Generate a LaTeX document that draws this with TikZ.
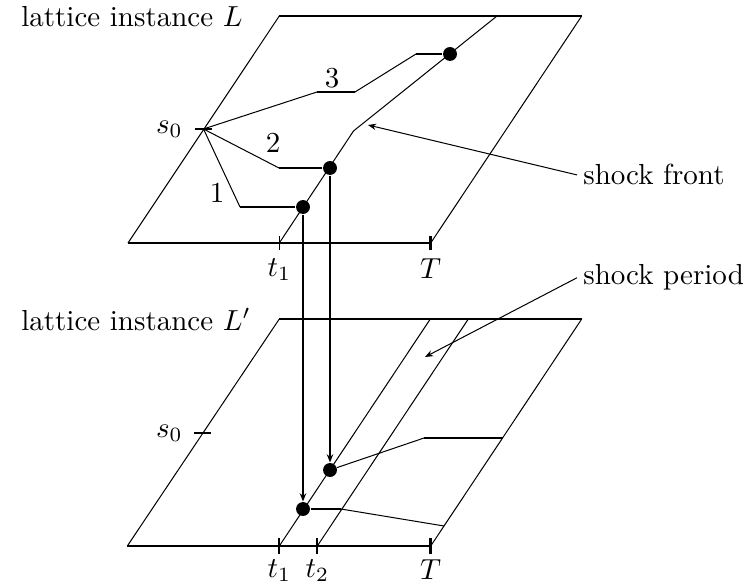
\documentclass[tikz,border=0pt]{standalone}
\usetikzlibrary{arrows.meta}

\begin{document}
\begin{tikzpicture}[
  x=0.345pt, y=-0.345pt,
  edge/.style={line width=0.35pt},
  rim/.style={line width=0.95pt},
  mid/.style={line width=0.65pt},
  hop/.style={line width=0.9pt},
  tk/.style={line width=0.65pt},
  dot/.style={circle, fill=black, inner sep=0pt, minimum size=4.8pt},
  ar/.style={-{Stealth[length=2.8pt, width=2.2pt]}, line width=0.7pt},
  arn/.style={-{Stealth[length=2.8pt, width=2.2pt]}, line width=0.35pt},
  lbl/.style={inner sep=2pt},
]
\useasboundingbox (0,0) rectangle (747,588);

% ---------------------------------------------------------------- instance L
\coordinate (uA) at (128,243);
\coordinate (uB) at (430.7,243);
\coordinate (uC) at (581.7,16);
\coordinate (uD) at (279.3,16);
\coordinate (ut1) at (279.3,243);
\coordinate (uK) at (353.5,131);
\coordinate (uE) at (497,16);
\coordinate (us0) at (203.5,129);

\draw[edge] (uA) -- (uD);
\draw[edge] (uB) -- (uC);
\draw[mid]  (uD) -- (uC);
\draw[rim]  (uA) -- (uB);
\draw[edge] ([yshift=2.4pt]ut1) -- ([yshift=-2.4pt]ut1);
\draw[rim]  ([yshift=2.4pt]uB) -- ([yshift=-2.4pt]uB);
\draw[tk]   ([xshift=-2.8pt]us0) -- ([xshift=2.8pt]us0);

% shock front
\draw[edge] (ut1) -- (uK) -- (uE);

\node[dot] at (303,207) (ud1) {};
\node[dot] at (330,168) (ud2) {};
\node[dot] at (450,54)  (ud3) {};

% paths from s0
\coordinate (ub1) at (240,207);
\coordinate (ub2) at (279,168);
\coordinate (ub3) at (317,92);
\coordinate (ub4) at (355,92);
\coordinate (ub5) at (416,54);
\draw[edge] (us0) -- (ub1);
\draw[hop]  (ub1) -- (ud1);
\draw[edge] (us0) -- (ub2);
\draw[hop]  (ub2) -- (ud2);
\draw[edge] (us0) -- (ub3);
\draw[hop]  (ub3) -- (ub4);
\draw[edge] (ub4) -- (ub5);
\draw[hop]  (ub5) -- (ud3);

\node[lbl] at (217,193) (n1) {1};
\node[lbl] at (273,143) (n2) {2};
\node[lbl] at (332,78)  (n3) {3};

\node[lbl, anchor=base west] at (15,27) (uL) {lattice instance $L$};
\node[lbl, anchor=east] at (189,129) (us0l) {$s_0$};
\node[lbl, anchor=north] at (279.3,252) (ut1l) {$t_1$};
\node[lbl, anchor=north] at (430.7,252) (uTl) {$T$};

% ---------------------------------------------------------------- instance L'
\coordinate (lA) at (127.3,546);
\coordinate (lB) at (430.7,546);
\coordinate (lC) at (581.7,319);
\coordinate (lD) at (279.3,319);
\coordinate (lt1) at (279.3,546);
\coordinate (lt2) at (317.3,546);
\coordinate (lt1e) at (430.3,319);
\coordinate (lt2e) at (468.3,319);
\coordinate (ls0) at (202.5,433);

\draw[edge] (lA) -- (lD);
\draw[edge] (lB) -- (lC);
\draw[rim]  (lD) -- (lC);
\draw[mid]  (lA) -- (lB);
\draw[tk]   ([yshift=2.6pt]lt1) -- ([yshift=-2.6pt]lt1);
\draw[tk]   ([yshift=2.6pt]lt2) -- ([yshift=-2.6pt]lt2);
\draw[rim]  ([yshift=2.6pt]lB) -- ([yshift=-2.6pt]lB);
\draw[tk]   ([xshift=-2.8pt]ls0) -- ([xshift=2.8pt]ls0);

% shock period
\draw[edge] (lt1) -- (lt1e);
\draw[edge] (lt2) -- (lt2e);

\node[dot] at (303,509) (ld1) {};
\node[dot] at (330,470) (ld2) {};

\coordinate (lb1) at (341,509);
\coordinate (lb2) at (444,526);
\coordinate (lb3) at (424,438);
\coordinate (lb4) at (502.5,438);
\draw[hop]  (ld1) -- (lb1);
\draw[edge] (lb1) -- (lb2);
\draw[edge] (ld2) -- (lb3);
\draw[hop]  (lb3) -- (lb4);

\node[lbl, anchor=base west] at (15,330) (lL) {lattice instance $L'$};
\node[lbl, anchor=east] at (189,433) (ls0l) {$s_0$};
\node[lbl, anchor=north] at (279.3,553) (lt1l) {$t_1$};
\node[lbl, anchor=north] at (317.3,553) (lt2l) {$t_2$};
\node[lbl, anchor=north] at (430.7,553) (lTl) {$T$};

% ---------------------------------------------------------------- arrows
\draw[ar] (ud1) -- (ld1);
\draw[ar] (ud2) -- (ld2);

\node[lbl, anchor=base west] at (577,185) (sf) {shock front};
\node[lbl, anchor=base west] at (577,285) (sp) {shock period};
\coordinate (sfT) at (368,125);
\coordinate (spT) at (425,357);
\draw[arn] (sf.west) -- (sfT);
\draw[arn] (sp.west) -- (spT);

\end{tikzpicture}
\end{document}
